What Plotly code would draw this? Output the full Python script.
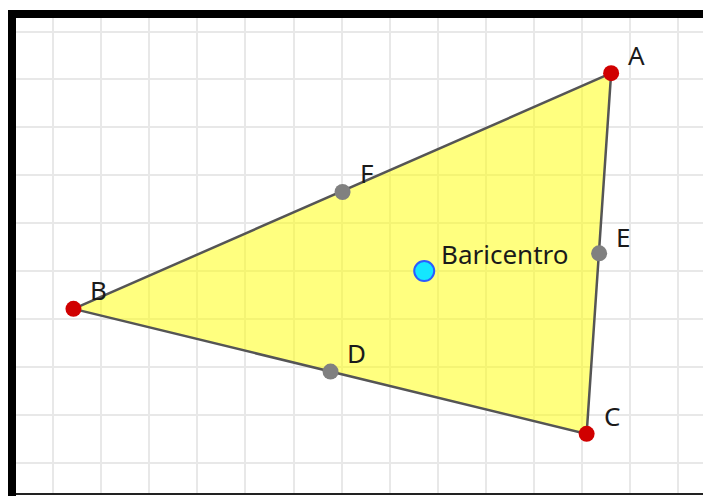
import plotly.graph_objects as go

# Vertices of the triangle (grid units)
vertex_names = ["A", "B", "C"]
vertex_x = [11.61, 0.42, 11.10]
vertex_y = [-0.87, -5.79, -8.40]

# Midpoints of the sides
mid_names = ["D", "E", "F"]
mid_x = [5.77, 11.36, 6.02]
mid_y = [-7.10, -4.63, -3.35]

# Centroid
centroid_name = "Baricentro"
centroid_x = 7.72
centroid_y = -5.00

W, H = 703, 496
x_range = [-1.109, 13.522]
y_range = [-9.697, 0.658]

fig = go.Figure()

# Triangle
fig.add_trace(go.Scatter(
    x=vertex_x + [vertex_x[0]], y=vertex_y + [vertex_y[0]],
    mode="lines", fill="toself",
    fillcolor="rgba(255,255,0,0.5)",
    line=dict(color="#555555", width=2.5),
    hoverinfo="skip", showlegend=False))

# Midpoints
fig.add_trace(go.Scatter(
    x=mid_x, y=mid_y, mode="markers",
    marker=dict(size=16, color="#808080", line=dict(width=0)),
    showlegend=False))

# Vertices
fig.add_trace(go.Scatter(
    x=vertex_x, y=vertex_y, mode="markers",
    marker=dict(size=16, color="#d00000", line=dict(width=0)),
    showlegend=False))

# Centroid
fig.add_trace(go.Scatter(
    x=[centroid_x], y=[centroid_y], mode="markers",
    marker=dict(size=20, color="#14e6ff", line=dict(width=2, color="#2a5cff")),
    showlegend=False))

label_font = dict(family="Noto Sans", size=26, color="#1a1a1a")
shifts = {"A": (15, 18), "B": (15, 18.5), "C": (15, 18),
          "D": (14, 19), "E": (15, 16), "F": (15, 18.5), "Baricentro": (15, 17)}
labels = list(zip(vertex_names, vertex_x, vertex_y)) + list(zip(mid_names, mid_x, mid_y)) + [(centroid_name, centroid_x, centroid_y)]
for name, x, y in labels:
    dx, dy = shifts[name]
    fig.add_annotation(x=x, y=y, text=name, showarrow=False,
                       xanchor="left", yanchor="middle",
                       xshift=dx, yshift=dy, font=label_font)

def px_rect(x0, y0, x1, y1, color):
    return dict(type="rect", xref="paper", yref="paper",
                x0=x0 / W, x1=x1 / W, y0=1 - y1 / H, y1=1 - y0 / H,
                fillcolor=color, line=dict(width=0), layer="above")

fig.update_layout(
    width=W, height=H,
    margin=dict(l=0, r=0, t=0, b=0),
    paper_bgcolor="white", plot_bgcolor="white",
    xaxis=dict(range=x_range, dtick=1, tick0=0, showgrid=True,
               gridcolor="#e8e8e8", gridwidth=2, zeroline=False,
               showticklabels=False, showline=False, fixedrange=True),
    yaxis=dict(range=y_range, dtick=1, tick0=0, showgrid=True,
               gridcolor="#e8e8e8", gridwidth=2, zeroline=False,
               showticklabels=False, showline=False, fixedrange=True),
    shapes=[
        px_rect(0, 0, W, 10, "white"),
        px_rect(0, 0, 8, H, "white"),
        px_rect(8, 10, W, 18, "black"),
        px_rect(8, 10, 16, H, "black"),
        px_rect(16, 493, W, 495, "#222222"),
        px_rect(16, 495, W, H, "white"),
    ],
)

fig.write_html("out.html", config={"displayModeBar": False},
               post_script="document.body.style.margin='0px';document.body.style.overflow='hidden';")
